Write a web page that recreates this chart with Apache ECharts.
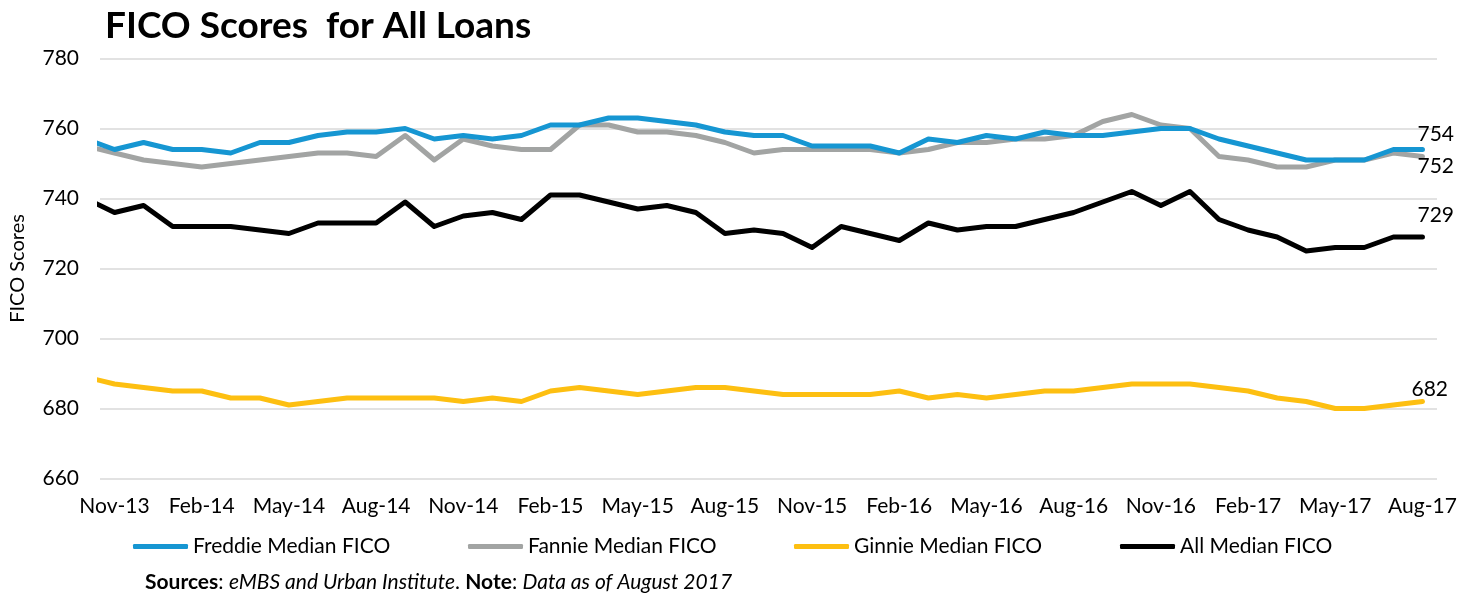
<!DOCTYPE html>
<html>
<head>
<meta charset="utf-8">
<script src="https://cdn.jsdelivr.net/npm/echarts@6/dist/echarts.min.js"></script>
<style>
html,body{margin:0;padding:0;background:#fff;}
#chart{width:1472px;height:596px;}
</style>
</head>
<body>
<div id="chart"></div>
<script>
// Months (first entry Oct-13 is only partly visible at the left edge)
const months = ['Oct-13','Nov-13','Dec-13','Jan-14','Feb-14','Mar-14','Apr-14','May-14','Jun-14','Jul-14','Aug-14','Sep-14','Oct-14','Nov-14','Dec-14',
  'Jan-15','Feb-15','Mar-15','Apr-15','May-15','Jun-15','Jul-15','Aug-15','Sep-15','Oct-15','Nov-15','Dec-15',
  'Jan-16','Feb-16','Mar-16','Apr-16','May-16','Jun-16','Jul-16','Aug-16','Sep-16','Oct-16','Nov-16','Dec-16',
  'Jan-17','Feb-17','Mar-17','Apr-17','May-17','Jun-17','Jul-17','Aug-17'];

const freddie = [757,754,756,754,754,753,756,756,758,759,759,760,757,758,757,758,761,761,763,763,762,761,759,758,758,755,755,755,753,757,756,758,757,759,758,758,759,760,760,757,755,753,751,751,751,754,754];
const fannie  = [755,753,751,750,749,750,751,752,753,753,752,758,751,757,755,754,754,761,761,759,759,758,756,753,754,754,754,754,753,754,756,756,757,757,758,762,764,761,760,752,751,749,749,751,751,753,752];
const ginnie  = [689,687,686,685,685,683,683,681,682,683,683,683,683,682,683,682,685,686,685,684,685,686,686,685,684,684,684,684,685,683,684,683,684,685,685,686,687,687,687,686,685,683,682,680,680,681,682];
const allLoans= [740,736,738,732,732,732,731,730,733,733,733,739,732,735,736,734,741,741,739,737,738,736,730,731,730,726,732,730,728,733,731,732,732,734,736,739,742,738,742,734,731,729,725,726,726,729,729];

const seriesNames = ['Freddie Median FICO','Fannie Median FICO','Ginnie Median FICO','All Median FICO'];
const seriesColors = ['#1696d2','#a2a4a3','#fdbf11','#000000'];
const endLabelOffsets = [[-5,-15],[-5,10],[-11,-12],[-5,-21.5]];
const yTicks = {min:660, max:780, step:20};

const FONT = 'Lato, "Open Sans", sans-serif';
const chart = echarts.init(document.getElementById('chart'), null, {renderer:'canvas'});

const dataSets = [freddie, fannie, ginnie, allLoans];
const series = dataSets.map((arr, k) => ({
  name: seriesNames[k],
  type: 'line',
  xAxisIndex: 1,
  data: arr.map((v, j) => [j - 1, v]),
  showSymbol: false,
  symbol: 'none',
  lineStyle: {width: 5, color: seriesColors[k], join: 'round', cap: 'round'},
  itemStyle: {color: seriesColors[k]},
  endLabel: {
    show: true,
    formatter: (p) => String(p.value[1]),
    distance: 0,
    offset: endLabelOffsets[k],
    align: 'left',
    verticalAlign: 'middle',
    fontSize: 21,
    fontFamily: FONT,
    color: '#000'
  },
  clip: true,
  z: 10 - k,
  animation: false
}));

const legendLefts = [133, 468, 794, 1120];
const legends = seriesNames.map((n, k) => ({
  data: [n],
  left: legendLefts[k],
  top: 536,
  padding: 0,
  icon: 'roundRect',
  itemWidth: 55,
  itemHeight: 5,
  itemGap: 0,
  textStyle: {fontSize: 21, fontFamily: FONT, color: '#000'},
  selectedMode: false
}));

chart.setOption({
  backgroundColor: '#fff',
  animation: false,
  title: [
    {
      text: 'FICO Scores  for All Loans',
      left: 105, top: 8, padding: 0,
      textStyle: {fontSize: 37, fontWeight: 'bold', fontFamily: FONT, color: '#000'}
    },
    {
      text: '{b|Sources}: {i|eMBS and Urban Institute}. {b|Note}: {i|Data as of August 2017}',
      left: 145, top: 572, padding: 0,
      textStyle: {
        fontSize: 21, fontWeight: 'normal', fontFamily: FONT, color: '#000',
        rich: {
          b: {fontWeight: 'bold', fontSize: 21, fontFamily: FONT, color: '#000'},
          i: {fontStyle: 'italic', fontWeight: 'normal', fontSize: 21, fontFamily: FONT, color: '#000'}
        }
      }
    }
  ],
  legend: legends,
  grid: {left: 95, right: 35, top: 58.5, bottom: 117.5, containLabel: false},
  xAxis: [
    {
      type: 'category',
      data: months.slice(1),
      boundaryGap: true,
      axisLine: {show: false},
      axisTick: {show: false},
      splitLine: {show: false},
      axisLabel: {interval: 2, fontSize: 21, fontFamily: FONT, color: '#000', margin: 17}
    },
    {
      type: 'value',
      min: -0.5, max: months.length - 1.5,
      show: false,
      splitLine: {show: false}
    }
  ],
  yAxis: {
    type: 'value',
    min: yTicks.min, max: yTicks.max, interval: yTicks.step,
    name: 'FICO Scores',
    nameLocation: 'middle',
    nameGap: 72,
    nameTextStyle: {fontSize: 20, fontFamily: FONT, color: '#000'},
    axisLine: {show: false},
    axisTick: {show: false},
    axisLabel: {fontSize: 21, fontFamily: FONT, color: '#000', margin: 21},
    splitLine: {show: true, lineStyle: {color: '#d9d9d9', width: 1.5}}
  },
  series: series
});
</script>
</body>
</html>
